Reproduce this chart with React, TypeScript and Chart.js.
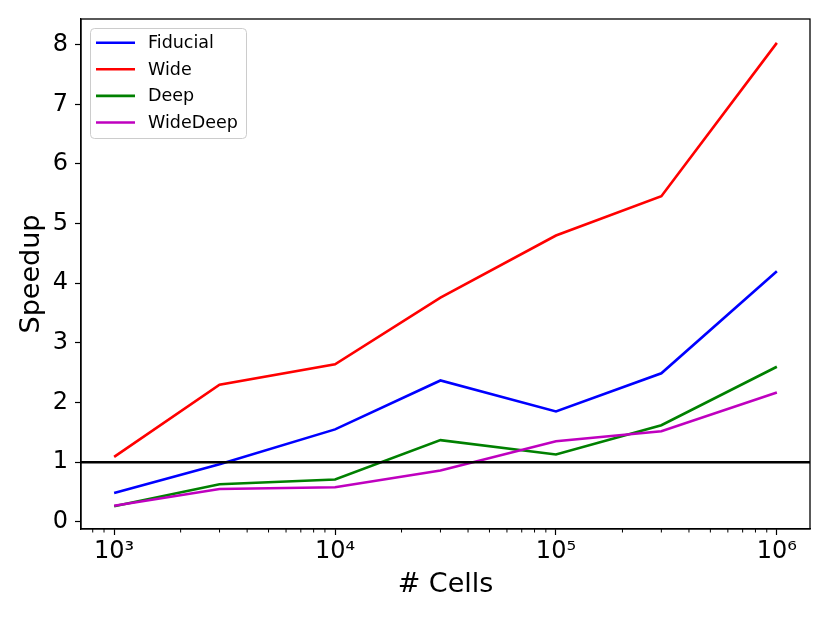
import React, { useEffect, useRef } from "react";
import { Chart, registerables } from "chart.js";

Chart.register(...registerables);

const cells = [1e3, 3e3, 1e4, 3e4, 1e5, 3e5, 1e6];
const fiducial = [0.485, 0.965, 1.55, 2.37, 1.85, 2.49, 4.2];
const wide = [1.09, 2.3, 2.64, 3.76, 4.8, 5.46, 8.03];
const deep = [0.26, 0.63, 0.71, 1.37, 1.13, 1.62, 2.6];
const wideDeep = [0.27, 0.55, 0.58, 0.86, 1.35, 1.52, 2.17];
const seriesNames = ["Fiducial", "Wide", "Deep", "WideDeep"];
const seriesColors = ["#0000ff", "#ff0000", "#008000", "#bf00bf"];
const xMajorTicks = [1e3, 1e4, 1e5, 1e6];
const xTickLabels = ["10³", "10⁴", "10⁵", "10⁶"];
const yTicks = [0, 1, 2, 3, 4, 5, 6, 7, 8];
const referenceLevel = 1;

const X_MIN = Math.pow(10, 2.85);
const X_MAX = Math.pow(10, 6.15);
const Y_MIN = -0.12;
const Y_MAX = 8.43;

const FONT = "'DejaVu Sans', sans-serif";

export default function App() {
  const ref = useRef<HTMLCanvasElement | null>(null);

  useEffect(() => {
    document.body.style.margin = "0";
    const canvas = ref.current;
    if (!canvas) return;
    const allSeries = [fiducial, wide, deep, wideDeep];

    const datasets: any[] = allSeries.map((s, i) => ({
      label: seriesNames[i],
      data: cells.map((c, j) => ({ x: c, y: s[j] })),
      borderColor: seriesColors[i],
      backgroundColor: seriesColors[i],
      borderWidth: 2.6,
      pointRadius: 0,
      fill: false,
      tension: 0,
      order: 5 - i,
    }));
    datasets.push({
      label: "",
      data: [
        { x: X_MIN, y: referenceLevel },
        { x: X_MAX, y: referenceLevel },
      ],
      borderColor: "#000000",
      borderWidth: 2.6,
      pointRadius: 0,
      fill: false,
      order: 0,
    });

    const framePlugin = {
      id: "frame",
      afterDraw(chart: any) {
        const { ctx, chartArea, scales } = chart;
        const xs = scales.x;
        ctx.save();
        // minor ticks
        ctx.strokeStyle = "#000";
        ctx.lineWidth = 1;
        for (let e = 2; e <= 6; e++) {
          for (let m = 2; m <= 9; m++) {
            const v = m * Math.pow(10, e);
            if (v < X_MIN || v > X_MAX) continue;
            const px = xs.getPixelForValue(v);
            ctx.beginPath();
            ctx.moveTo(px, chartArea.bottom);
            ctx.lineTo(px, chartArea.bottom + 3.5);
            ctx.stroke();
          }
        }
        // box
        ctx.lineWidth = 1.3;
        ctx.strokeRect(
          chartArea.left,
          chartArea.top,
          chartArea.right - chartArea.left,
          chartArea.bottom - chartArea.top
        );
        // legend
        const lx = 90.5, ly = 28.5, lw = 156, lh = 110, r = 4;
        ctx.beginPath();
        ctx.moveTo(lx + r, ly);
        ctx.lineTo(lx + lw - r, ly);
        ctx.quadraticCurveTo(lx + lw, ly, lx + lw, ly + r);
        ctx.lineTo(lx + lw, ly + lh - r);
        ctx.quadraticCurveTo(lx + lw, ly + lh, lx + lw - r, ly + lh);
        ctx.lineTo(lx + r, ly + lh);
        ctx.quadraticCurveTo(lx, ly + lh, lx, ly + lh - r);
        ctx.lineTo(lx, ly + r);
        ctx.quadraticCurveTo(lx, ly, lx + r, ly);
        ctx.closePath();
        ctx.fillStyle = "rgba(255,255,255,0.8)";
        ctx.fill();
        ctx.strokeStyle = "#cccccc";
        ctx.lineWidth = 1;
        ctx.stroke();
        ctx.font = `17.5px ${FONT}`;
        ctx.textBaseline = "middle";
        ctx.textAlign = "left";
        seriesNames.forEach((name, i) => {
          const yy = 42.7 + i * 26.6;
          ctx.strokeStyle = seriesColors[i];
          ctx.lineWidth = 2.6;
          ctx.beginPath();
          ctx.moveTo(96, yy);
          ctx.lineTo(135, yy);
          ctx.stroke();
          ctx.fillStyle = "#000";
          ctx.fillText(name, 148, yy + 1);
        });
        ctx.restore();
      },
    };

    const chart = new Chart(canvas, {
      type: "line",
      data: { datasets },
      plugins: [framePlugin],
      options: {
        animation: false,
        responsive: false,
        maintainAspectRatio: false,
        layout: { padding: { top: 19, right: 20, left: 16, bottom: 22 } },
        plugins: {
          legend: { display: false },
          tooltip: { enabled: false },
        },
        scales: {
          x: {
            type: "logarithmic",
            min: X_MIN,
            max: X_MAX,
            afterBuildTicks: (scale: any) => {
              scale.ticks = xMajorTicks.map((v) => ({ value: v }));
            },
            afterFit: (scale: any) => {
              scale.height = 72;
              scale.paddingLeft = 0;
              scale.paddingRight = 0;
            },
            ticks: {
              autoSkip: false,
              maxRotation: 0,
              padding: 2,
              color: "#000",
              font: { family: FONT, size: 24 },
              callback: (v: any) => {
                const idx = xMajorTicks.indexOf(Number(v));
                return idx >= 0 ? xTickLabels[idx] : "";
              },
            },
            grid: {
              drawOnChartArea: false,
              drawTicks: true,
              tickLength: 6,
              color: "#000",
              tickWidth: 1.2,
            },
            border: { display: true, color: "#000", width: 1.3 },
            title: {
              display: true,
              text: "# Cells",
              color: "#000",
              font: { family: FONT, size: 27 },
              padding: { top: 0, bottom: 0 },
            },
          },
          y: {
            type: "linear",
            min: Y_MIN,
            max: Y_MAX,
            afterBuildTicks: (scale: any) => {
              scale.ticks = yTicks.map((v) => ({ value: v }));
            },
            afterFit: (scale: any) => {
              scale.width = 65;
              scale.paddingTop = 0;
              scale.paddingBottom = 0;
            },
            ticks: {
              padding: 7,
              color: "#000",
              font: { family: FONT, size: 24 },
              callback: (v: any) => String(v),
            },
            grid: {
              drawOnChartArea: false,
              drawTicks: true,
              tickLength: 6,
              color: "#000",
              tickWidth: 1.2,
            },
            border: { display: true, color: "#000", width: 1.3 },
            title: {
              display: true,
              text: "Speedup",
              color: "#000",
              font: { family: FONT, size: 27 },
              padding: { top: 0, bottom: 0 },
            },
          },
        },
      },
    } as any);

    return () => chart.destroy();
  }, []);

  return (
    <div style={{ width: 830, height: 623, background: "#fff" }}>
      <canvas ref={ref} width={830} height={623} style={{ display: "block" }} />
    </div>
  );
}
